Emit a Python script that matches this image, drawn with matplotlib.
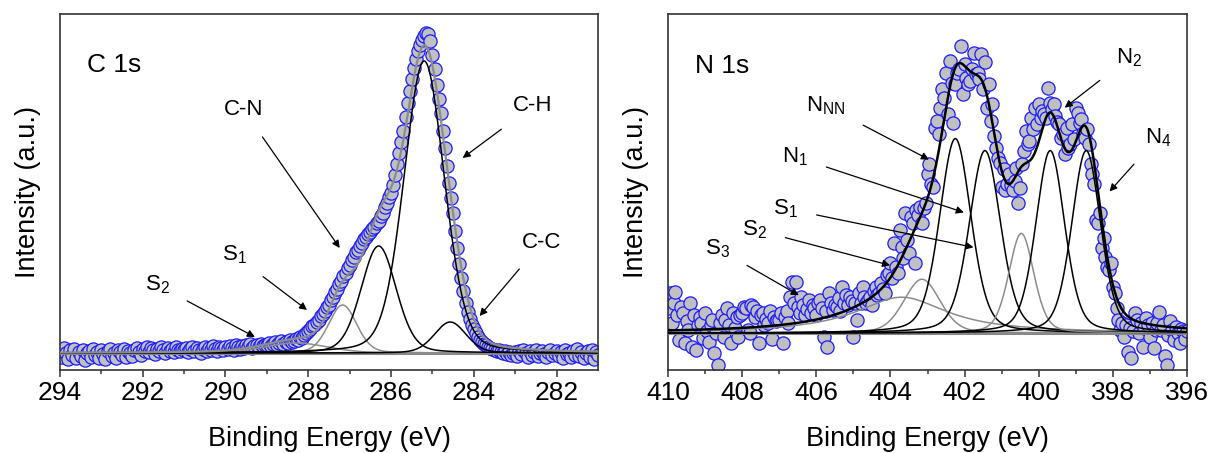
import numpy as np
import matplotlib
matplotlib.use("Agg")
import matplotlib.pyplot as plt

plt.rcParams['font.family'] = ['Liberation Sans', 'DejaVu Sans']
plt.rcParams['mathtext.fontset'] = 'custom'
plt.rcParams['mathtext.rm'] = 'Liberation Sans'
plt.rcParams['mathtext.it'] = 'Liberation Sans'

# ---- C 1s data (binding energy grid, intensity above baseline, a.u.) ----
c_energy = np.arange(294.0, 280.999, -0.05)
c_counts = [
    2, -4, 5, 0, -6, 3, -2, 4, -5, 1, -3, 3, -7, 0, 2, -4, 4, -2, 1, -5,
    3, -1, -6, 2, 4, -3, 0, -5, 3, 1, -2, 4, -4, 2, 0, -3, 3, 5, 1, -2,
    4, 2, 6, 1, 5, 3, -1, 4, 2, 6, 3, 0, 5, 2, 4, 1, 6, 3, 2, 4,
    3, 5, 1, 4, 6, 2, 5, 3, 0, 4, 6, 2, 5, 3, 7, 4, 2, 6, 5, 3,
    6, 4, 7, 5, 3, 8, 6, 4, 7, 5, 8, 6, 9, 5, 7, 8, 6, 9, 7, 8,
    8, 10, 7, 9, 11, 8, 10, 12, 9, 11, 10, 13, 11, 12, 14, 13, 16, 15, 18, 20,
    22, 24, 27, 28, 31, 33, 37, 39, 42, 46, 48, 53, 56, 61, 64, 69, 72, 77, 80, 85,
    88, 93, 96, 101, 103, 107, 110, 114, 116, 119, 121, 124, 126, 130, 132, 137, 140, 146, 150, 156,
    160, 168, 178, 189, 200, 211, 222, 236, 250, 262, 274, 285, 294, 302, 308, 313, 317, 320, 319, 312,
    298, 284, 268, 254, 240, 222, 205, 187, 170, 155, 140, 122, 105, 89, 75, 62, 50, 41, 34, 28,
    24, 20, 16, 13, 11, 9, 8, 6, 5, 4, 3, 2, 3, 1, 0, 2, -1, 1, -2, 0,
    1, -3, 2, -1, 3, 0, -4, 2, -2, 1, 3, -3, 0, 2, -1, -4, 1, 3, -2, 0,
    2, -3, 1, -5, 3, -1, 0, -4, 2, -2, 4, -3, 1, -5, 0, 2, -4, 3, -6, 1,
    -2,
]

# C 1s fit components: S2, S1, C-N, C-H, C-C
c_centers = [288.3, 287.17, 286.3, 285.2, 284.57]
c_heights = [10, 48, 107, 292, 31]
c_fwhm = [1.8, 0.8, 1.0, 1.15, 0.9]
c_colors = ['#8c8c8c', '#8c8c8c', 'black', 'black', 'black']

# ---- N 1s data ----
n_energy = np.arange(410.0, 395.999, -0.05)
n_counts = [
    25, 40, 10, 30, 41, 18, -7, 26, 20, -10, 12, 3, 30, -14, 18, -17, 8, 16, 10, -5,
    20, 2, -9, 8, 13, -20, 0, -32, 10, 18, -4, 13, 25, 8, -10, 20, 5, 16, -4, 18,
    20, 26, 25, 3, 0, 28, 26, 16, 22, -10, 18, 20, 8, 14, 10, 22, -6, 16, 12, 13,
    13, 20, -10, 16, 22, 10, 36, 51, 30, 51, 26, 20, 36, 28, 18, 24, 33, 20, 28, 25,
    18, 30, 33, 25, -4, 22, -14, 40, 30, 23, 28, 26, 35, 22, 46, 30, 38, 28, 36, 32,
    -4, 30, 13, 40, 30, 46, 36, 30, 33, 36, 28, 42, 46, 38, 40, 50, 44, 40, 58, 60,
    70, 55, 90, 66, 60, 103, 86, 75, 120, 93, 80, 116, 110, 70, 123, 118, 126, 110, 125, 130,
    160, 170, 150, 146, 206, 213, 200, 226, 245, 236, 261, 220, 273, 251, 211, 250, 261, 265, 288, 240,
    270, 256, 250, 253, 265, 281, 260, 261, 255, 280, 245, 272, 226, 250, 213, 230, 198, 186, 176, 171,
    146, 165, 143, 150, 160, 148, 143, 153, 166, 130, 145, 170, 183, 203, 190, 193, 216, 205, 226, 210,
    230, 216, 223, 220, 216, 246, 231, 225, 230, 218, 212, 210, 196, 200, 180, 206, 186, 190, 210, 195,
    226, 221, 211, 215, 201, 196, 205, 190, 170, 160, 150, 113, 110, 120, 85, 95, 76, 66, 63, 70,
    46, 40, 25, 13, 3, 10, -4, 8, -19, 5, -25, 2, 20, 13, 0, 10, -14, 5, 15, 8,
    -4, 10, -15, 3, 10, 21, 3, 8, -23, -32, -2, 12, 3, -7, 6, 0, -10, 4, 2, -6,
    2,
]

# N 1s fit components: broad S3, S2, N_NN, N1, S1, N2, N4
n_centers = [403.7, 403.15, 402.25, 401.45, 400.47, 399.69, 398.72]
n_heights = [36, 54, 195, 183, 100, 183, 183]
n_fwhm = [3.0, 1.15, 1.0, 1.0, 0.8, 0.92, 0.92]
n_eta = [1.0, 0.25, 0.3, 0.3, 0.3, 0.3, 0.3]
n_colors = ['#8c8c8c', '#8c8c8c', 'black', 'black', '#8c8c8c', 'black', 'black']


def peak(x, c, h, w, eta=0.2):
    g = np.exp(-4 * np.log(2) * (x - c) ** 2 / w ** 2)
    l = 1.0 / (1 + 4 * (x - c) ** 2 / w ** 2)
    return h * ((1 - eta) * g + eta * l)


def style_axes(ax, xlim, ylim, ticks):
    ax.set_xlim(*xlim)
    ax.set_ylim(*ylim)
    ax.set_xticks(ticks)
    ax.set_xticks(np.arange(min(ticks) + 1, max(ticks), 2), minor=True)
    ax.set_yticks([])
    ax.tick_params(axis='x', which='major', direction='out', length=5, width=1.1,
                   labelsize=19, pad=3, color='#333333')
    ax.tick_params(axis='x', which='minor', direction='out', length=3, width=1.1,
                   color='#333333')
    for s in ax.spines.values():
        s.set_color('#333333')
        s.set_linewidth(1.2)
    ax.set_xlabel('Binding Energy (eV)', fontsize=19.5, labelpad=15)
    ax.set_ylabel('Intensity (a.u.)', fontsize=19.5, labelpad=14)


def arrow(ax, text, xy, xytext):
    ax.annotate(text, xy=xy, xytext=xytext, fontsize=16, ha='center', va='center',
                arrowprops=dict(arrowstyle='-|>', color='black', lw=0.9,
                                mutation_scale=11, shrinkA=12, shrinkB=0))


fig = plt.figure(figsize=(12.11, 4.53), dpi=100)
ax1 = fig.add_axes([0.0495, 0.1832, 0.4443, 0.786])
ax2 = fig.add_axes([0.5516, 0.1832, 0.4286, 0.786])

mk = dict(ls='none', marker='o', ms=9.5, mfc='#c0c0c0', mec='#1a1aff', mew=0.9)

# ---- left panel: C 1s ----
xf = np.linspace(294, 281, 1200)
ax1.plot(c_energy, c_counts, **mk, zorder=2)
ax1.axhline(0, color='#888888', lw=2.2, zorder=3)
c_sum = np.zeros_like(xf)
for c, h, w, col in zip(c_centers, c_heights, c_fwhm, c_colors):
    y = peak(xf, c, h, w)
    c_sum += y
    ax1.plot(xf, y, color=col, lw=1.1, zorder=4)
ax1.plot(xf, c_sum, color='#8c8c8c', lw=1.6, zorder=5)
ax1.text(293.35, 288, 'C 1s', fontsize=19, ha='left', va='center')
arrow(ax1, 'C-N', (287.24, 105), (289.56, 243))
arrow(ax1, 'C-H', (284.27, 195), (282.58, 247))
arrow(ax1, 'C-C', (283.86, 37), (282.37, 110))
arrow(ax1, 'S$_1$', (288.03, 43), (289.78, 98))
arrow(ax1, 'S$_2$', (289.29, 16), (291.65, 68))
style_axes(ax1, (294, 281), (-17, 339), [294, 292, 290, 288, 286, 284, 282])

# ---- right panel: N 1s ----
xn = np.linspace(410, 396, 1200)
ax2.plot(n_energy, n_counts, **mk, zorder=2)
ax2.axhline(0, color='#888888', lw=2.2, zorder=3)
n_sum = np.zeros_like(xn)
for c, h, w, e, col in zip(n_centers, n_heights, n_fwhm, n_eta, n_colors):
    y = peak(xn, c, h, w, e)
    n_sum += y
    ax2.plot(xn, y, color=col, lw=1.1, zorder=4)
ax2.plot(xn, n_sum, color='black', lw=1.8, zorder=5)
ax2.text(409.27, 268, 'N 1s', fontsize=19, ha='left', va='center')
arrow(ax2, r'N$_\mathrm{NN}$', (402.96, 174), (405.74, 228))
arrow(ax2, 'N$_1$', (402.02, 121), (406.58, 177))
arrow(ax2, 'S$_1$', (401.76, 86), (406.84, 125))
arrow(ax2, 'S$_2$', (404.01, 68), (407.68, 104))
arrow(ax2, 'S$_3$', (406.47, 38), (408.67, 85))
arrow(ax2, 'N$_2$', (399.30, 226), (397.57, 276))
arrow(ax2, 'N$_4$', (398.09, 142), (396.79, 196))
style_axes(ax2, (410, 396), (-37, 320), [410, 408, 406, 404, 402, 400, 398, 396])

fig.savefig('out.png', dpi=100)
